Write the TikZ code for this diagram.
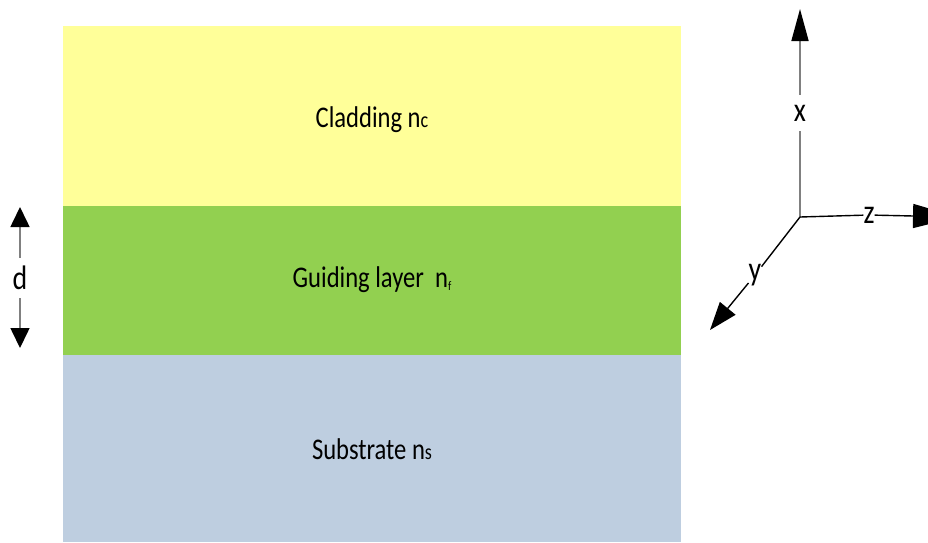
\documentclass[tikz,border=0pt]{standalone}
\usepackage{fontspec}
\setmainfont{Carlito}[FakeStretch=0.82]
\usetikzlibrary{arrows.meta}

\definecolor{cladcol}{RGB}{255,255,153}
\definecolor{guidecol}{RGB}{146,208,80}
\definecolor{substcol}{RGB}{190,206,224}
\definecolor{axisgray}{RGB}{128,128,128}

\begin{document}
\begin{tikzpicture}[x=1pt, y=-1pt,
    layertext/.style={anchor=base, inner sep=0pt, font=\fontsize{30}{34}\selectfont},
    axislabel/.style={inner sep=0pt, font=\fontsize{34}{38}\selectfont},
    bigtip/.style={-{Triangle[length=32pt,width=17pt,color=black]}}]
    \useasboundingbox (0,0) rectangle (928,542);
    % the three layers
    \fill[cladcol] (63,26) rectangle (681,206);
    \fill[guidecol] (63,206) rectangle (681,355);
    \fill[substcol] (63,355) rectangle (681,542);
    \node[layertext] (clad) at (372,127) {Cladding n{\fontsize{22}{22}\selectfont c}};
    \node[layertext] (guide) at (372,287) {Guiding layer~ n\raisebox{-3pt}{\fontsize{13}{13}\selectfont f}};
    \node[layertext] (subst) at (372,459) {Substrate n{\fontsize{22}{22}\selectfont s}};

    % thickness d
    \coordinate (dtop) at (20,207);
    \coordinate (dbot) at (20,348);
    \node[axislabel, minimum height=40pt] (dlab) at (20,278) {d};
    \draw[axisgray, line width=1.6pt, -{Triangle[length=20pt,width=19pt,color=black]}] (dlab) -- (dtop);
    \draw[axisgray, line width=1.6pt, -{Triangle[length=20pt,width=19pt,color=black]}] (dlab) -- (dbot);

    % coordinate axes
    \coordinate (o) at (800,217);
    \coordinate (xtip) at (800,9);
    \coordinate (ztip) at (958,217);
    \coordinate (ytip) at (710,330);
    \node[axislabel, minimum height=36pt] (xlab) at (800,113) {x};
    \node[axislabel] (zlab) at (869,215) {z};
    \node[axislabel] (ylab) at (755,275) {y};
    \draw[axisgray, line width=1.6pt] (o) -- (xlab);
    \draw[axisgray, line width=1.6pt, bigtip] (xlab) -- (xtip);
    \draw[line width=1.4pt] (o) -- (zlab);
    \draw[line width=1.4pt, -{Triangle[length=45pt,width=24pt]}] (zlab) -- (ztip);
    \draw[line width=1.4pt] (o) -- (ylab);
    \draw[line width=1.4pt, -{Triangle[length=28pt,width=20pt]}] (ylab) -- (ytip);
\end{tikzpicture}
\end{document}
